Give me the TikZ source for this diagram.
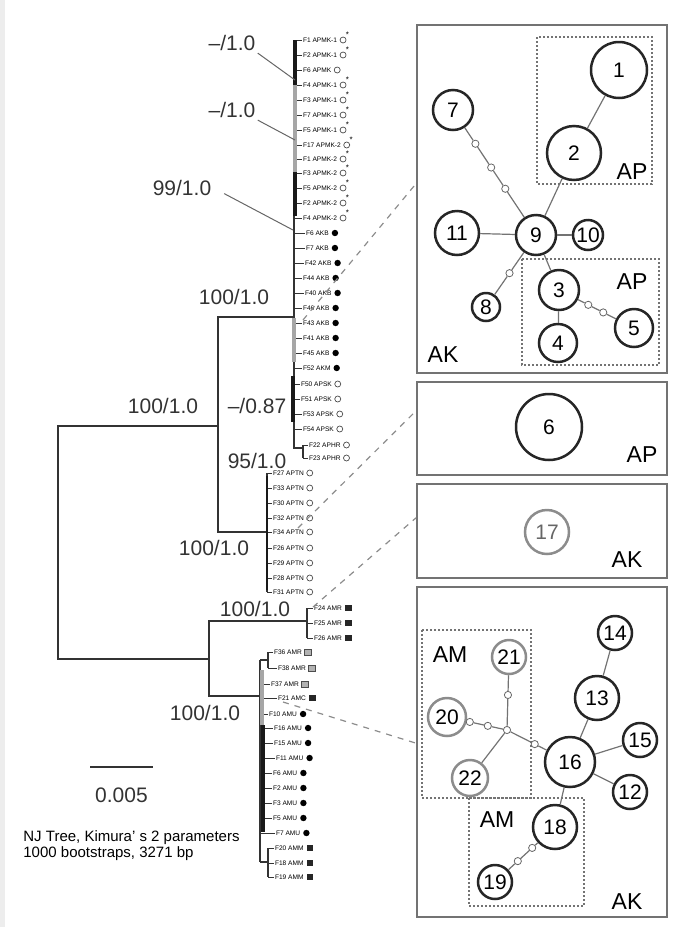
\documentclass[tikz,border=0pt]{standalone}
\usepackage{fontspec}
\setmainfont{Liberation Sans}
\usetikzlibrary{positioning, calc}

\newcommand{\supfont}{\fontsize{10.5}{12}\selectfont}
\newcommand{\leaffont}{\fontsize{3.3}{4}\selectfont}
\newcommand{\hapfont}{\fontsize{10.5}{12}\selectfont}
\newcommand{\grpfont}{\fontsize{11.5}{13}\selectfont}

\begin{document}
\begin{tikzpicture}[x=0.5pt,y=-0.5pt,
    branch/.style={draw=black!80, line width=1pt},
    twig/.style={draw=black!80, line width=0.5pt},
    leaf/.style={font=\leaffont, inner sep=0.3pt, anchor=west},
    symo/.style={circle, draw=black!70, line width=0.35pt, minimum size=3pt, inner sep=0pt},
    symk/.style={symo, label={[font=\fontsize{4}{4}\selectfont, inner sep=0pt]north east:*}},
    symb/.style={circle, fill=black, minimum size=3.2pt, inner sep=0pt},
    syms/.style={rectangle, fill=black!85, minimum size=3.4pt, inner sep=0pt},
    symg/.style={rectangle, draw=black!70, fill=black!30, line width=0.3pt, minimum size=3.2pt, inner sep=0pt},
    support/.style={font=\supfont, text=black!80, inner sep=1pt},
    leader/.style={draw=black!60, line width=0.5pt},
    hap/.style={circle, draw=black!85, line width=1.25pt, inner sep=0pt, font=\hapfont},
    hapgray/.style={hap, draw=black!45},
    mv/.style={circle, draw=black!60, fill=white, line width=0.4pt, minimum size=3.6pt, inner sep=0pt},
    link/.style={draw=black!55, line width=0.6pt},
    panel/.style={draw=black!55, line width=0.9pt, minimum width=125pt},
    group/.style={draw=black!55, dash pattern=on 1pt off 1pt, line width=0.6pt},
    zoomline/.style={draw=black!45, dashed, line width=0.6pt},
    region/.style={font=\grpfont}]

\useasboundingbox (0,0) rectangle (674,927);
\fill[black!7] (0,0) rectangle (5,927);

% clade points of the tree
\coordinate (rt) at (58,426);
\coordinate (cA) at (218,426);
\coordinate (cU) at (294,317);
\coordinate (cH) at (303,448);
\coordinate (cT) at (267,532);
\coordinate (cB) at (209,659);
\coordinate (cR) at (307,621);
\coordinate (cL) at (260,696);
\coordinate (cM) at (268,660);
\coordinate (cN) at (268,862);

% leaves
\foreach \x/\y/\txt/\s/\c [count=\i] in {
    302/40/F1 APMK-1/k/U, 302/55/F2 APMK-1/k/U, 302/70/F6 APMK/o/U,
    302/85/F4 APMK-1/k/U, 302/100/F3 APMK-1/k/U, 302/115/F7 APMK-1/k/U,
    302/130/F5 APMK-1/k/U, 302/145/F17 APMK-2/k/U, 302/159/F1 APMK-2/k/U,
    302/173/F3 APMK-2/k/U, 302/188/F5 APMK-2/k/U, 302/203/F2 APMK-2/k/U,
    302/218/F4 APMK-2/k/U, 305/233/F6 AKB/b/U, 305/248/F7 AKB/b/U,
    304/263/F42 AKB/b/U, 302/278/F44 AKB/b/U, 304/293/F40 AKB/b/U,
    302/308/F46 AKB/b/U, 302/323/F43 AKB/b/U, 302/338/F41 AKB/b/U,
    302/353/F45 AKB/b/U, 302/368/F52 AKM/b/U, 300/384/F50 APSK/o/U,
    300/399/F51 APSK/o/U, 302/414/F53 APSK/o/U, 302/429/F54 APSK/o/U,
    308/445/F22 APHR/o/H, 308/458/F23 APHR/o/H,
    272/473/F27 APTN/o/T, 272/488/F33 APTN/o/T, 272/503/F30 APTN/o/T,
    272/518/F32 APTN/o/T, 272/532/F34 APTN/o/T, 272/548/F26 APTN/o/T,
    272/563/F29 APTN/o/T, 272/578/F28 APTN/o/T, 272/592/F31 APTN/o/T,
    313/608/F24 AMR/s/R, 313/623/F25 AMR/s/R, 313/638/F26 AMR/s/R,
    273/652/F36 AMR/g/M, 277/668/F38 AMR/g/M, 270/684/F37 AMR/g/L,
    277/698/F21 AMC/s/L, 268/714/F10 AMU/b/L, 273/728/F16 AMU/b/L,
    273/743/F15 AMU/b/L, 275/758/F11 AMU/b/L, 272/773/F6 AMU/b/L,
    272/788/F2 AMU/b/L, 272/803/F3 AMU/b/L, 272/818/F5 AMU/b/L,
    275/833/F7 AMU/b/L, 274/848/F20 AMM/s/N, 274/863/F18 AMM/s/N,
    274/877/F19 AMM/s/N}{
  \node[leaf] (l\i) at (\x,\y) {\txt};
  \node[sym\s, right=0.8pt of l\i] (ls\i) {};
  \draw[twig] (c\c |- l\i.west) -- (l\i.west);
}

% branches
\draw[branch] (cU) -| (cA |- cT) -- (cT);
\draw[branch] (cA) -| (rt |- cB) -- (cB);
\draw[branch] (cR) -| (cB |- cL) -- (cL);
\draw[branch] (cU |- l1.west) -- (cU |- cH) -- (cH);
\draw[branch] (cH |- l28.west) -- (cH |- l29.west);
\draw[branch] (cT |- l30.west) -- (cT |- l38.west);
\draw[branch] (cR |- l39.west) -- (cR |- l41.west);
\draw[branch] (cL |- cM) -- (cL |- cN);
\draw[branch] (cL |- cM) -- (cM);
\draw[branch] (cM |- l42.west) -- (cM |- l43.west);
\draw[branch] (cL |- cN) -- (cN);
\draw[branch] (cN |- l55.west) -- (cN |- l57.west);
% short, crowded branches
\draw[black!90, line width=1.6pt] (295,40) -- (295,85);
\draw[black!35, line width=2.2pt] (295,85) -- (295,172);
\draw[black!90, line width=1.6pt] (295,172) -- (295,216);
\draw[black!35, line width=1.6pt] (294,318) -- (294,362);
\draw[black!90, line width=1.6pt] (293,376) -- (293,422);
\draw[black!90, line width=1.4pt] (267,476) -- (267,590);
\draw[black!35, line width=1.6pt] (262,670) -- (262,725);
\draw[black!90, line width=1.6pt] (263,725) -- (263,832);

% support values
\node[support] (s1) at (232,43) {–/1.0};
\node[support] (s2) at (232,110) {–/1.0};
\node[support] (s3) at (182,188) {99/1.0};
\node[support] (s4) at (234,297) {100/1.0};
\node[support] (s5) at (163,406) {100/1.0};
\node[support] (s6) at (257,406) {–/0.87};
\node[support] (s7) at (257,461) {95/1.0};
\node[support] (s8) at (214,548) {100/1.0};
\node[support] (s9) at (255,609) {100/1.0};
\node[support] (s10) at (205,713) {100/1.0};
\coordinate (k1) at (295,80);
\coordinate (k2) at (295,140);
\coordinate (k3) at (293,230);
\draw[leader] (s1.south east) -- (k1);
\draw[leader] (s2.south east) -- (k2);
\draw[leader, shorten <=6pt] (s3.east) -- (k3);

% scale bar and caption
\coordinate (sb1) at (90,767);
\coordinate (sb2) at (153,767);
\draw[branch] (sb1) -- (sb2);
\node[support, below=9pt of $(sb1)!0.5!(sb2)$] (sbl) {0.005};
\node[anchor=north west, align=left, inner sep=0pt,
      font=\fontsize{7.5}{8}\selectfont] (cap) at (23,830)
  {NJ Tree, Kimura' s 2 parameters\\1000 bootstraps, 3271 bp};

% panels
\node[panel, minimum height=174pt] (pA) at (542,199) {};
\node[panel, minimum height=46.5pt] (pB) at (542,428.5) {};
\node[panel, minimum height=47pt] (pC) at (542,531) {};
\node[panel, minimum height=165pt] (pD) at (542,752) {};
\coordinate (z1) at (303,320);
\coordinate (z2) at (298,528);
\coordinate (z3) at (313,607);
\coordinate (z4) at (283,702);
\draw[zoomline] (z1) -- (pA.173);
\draw[zoomline] (z2) -- (pB.172);
\draw[zoomline] (z3) -- (pC.174);
\draw[zoomline] (z4) -- (pD.176);

% network of panel A
\draw[group] (537,37) rectangle (652,184);
\draw[group] (522,259) rectangle (659,365);
\node[hap, minimum size=28pt] (h1) at (619,70) {1};
\node[hap, minimum size=27pt] (h2) at (574,153) {2};
\node[hap, minimum size=20pt] (h7) at (453,110) {7};
\node[hap, minimum size=20pt] (h9) at (536,235) {9};
\node[hap, minimum size=22pt] (h11) at (457,233) {11};
\node[hap, minimum size=15pt] (h10) at (588,235) {10};
\node[hap, minimum size=14pt] (h8) at (486,307) {8};
\node[hap, minimum size=20pt] (h3) at (559,290) {3};
\node[hap, minimum size=19pt] (h5) at (634,328) {5};
\node[hap, minimum size=19pt] (h4) at (558,343) {4};
\node[mv] (m1) at ($(h7)!0.27!(h9)$) {};
\node[mv] (m2) at ($(h7)!0.46!(h9)$) {};
\node[mv] (m3) at ($(h7)!0.63!(h9)$) {};
\node[mv] (m4) at ($(h9)!0.53!(h8)$) {};
\node[mv] (m5) at ($(h3)!0.39!(h5)$) {};
\node[mv] (m6) at ($(h3)!0.59!(h5)$) {};
\draw[link] (h1) -- (h2);
\draw[link] (h2) -- (h9);
\draw[link] (h7) -- (m1) -- (m2) -- (m3) -- (h9);
\draw[link] (h11) -- (h9);
\draw[link] (h10) -- (h9);
\draw[link] (h9) -- (m4) -- (h8);
\draw[link] (h9) -- (h3);
\draw[link] (h3) -- (h4);
\draw[link] (h3) -- (m5) -- (m6) -- (h5);
\node[region] (gA1) at (632,172) {AP};
\node[region] (gA2) at (632,282) {AP};
\node[region] (gA3) at (443,355) {AK};

% panel B
\node[hap, minimum size=33pt] (h6) at (549,427) {6};
\node[region] (gB) at (642,455) {AP};

% panel C
\node[hapgray, text=black!60, minimum size=22pt] (h17) at (547,532) {17};
\node[region] (gC) at (627,560) {AK};

% network of panel D
\draw[group] (422,630) rectangle (531,798);
\draw[group] (469,798) rectangle (584,906);
\node[hapgray, minimum size=17pt] (h21) at (509,657) {21};
\node[hapgray, minimum size=19pt] (h20) at (447,717) {20};
\node[hapgray, minimum size=18pt] (h22) at (470,778) {22};
\node[mv] (j) at (507,730) {};
\node[hap, minimum size=25pt] (h16) at (570,762) {16};
\node[hap, minimum size=22pt] (h13) at (597,698) {13};
\node[hap, minimum size=17pt] (h14) at (615,633) {14};
\node[hap, minimum size=17pt] (h15) at (640,740) {15};
\node[hap, minimum size=17pt] (h12) at (630,792) {12};
\node[hap, minimum size=22pt] (h18) at (555,827) {18};
\node[hap, minimum size=17pt] (h19) at (495,882) {19};
\node[mv] (m7) at ($(h21)!0.52!(j)$) {};
\node[mv] (m8) at ($(h20)!0.38!(j)$) {};
\node[mv] (m9) at ($(h20)!0.68!(j)$) {};
\node[mv] (m10) at ($(j)!0.44!(h16)$) {};
\node[mv] (m11) at ($(h18)!0.38!(h19)$) {};
\node[mv] (m12) at ($(h18)!0.62!(h19)$) {};
\draw[link] (h21) -- (m7) -- (j);
\draw[link] (h20) -- (m8) -- (m9) -- (j);
\draw[link] (h22) -- (j);
\draw[link] (j) -- (m10) -- (h16);
\draw[link] (h14) -- (h13);
\draw[link] (h13) -- (h16);
\draw[link] (h15) -- (h16);
\draw[link] (h12) -- (h16);
\draw[link] (h16) -- (h18);
\draw[link] (h18) -- (m11) -- (m12) -- (h19);
\node[region] (gD1) at (450,655) {AM};
\node[region] (gD2) at (497,820) {AM};
\node[region] (gD3) at (627,902) {AK};
\end{tikzpicture}
\end{document}
